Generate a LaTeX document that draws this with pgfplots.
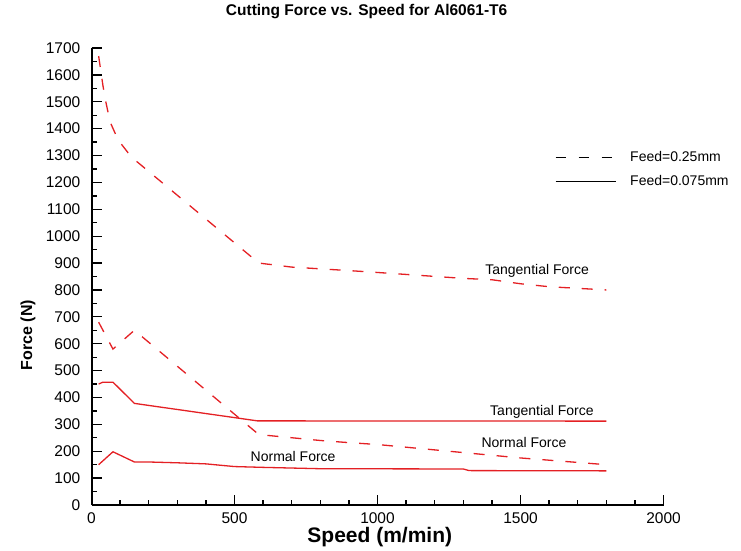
\documentclass[border=0pt]{standalone}
\usepackage{fontspec}
\setmainfont{Liberation Sans}
\usepackage{pgfplots}
\pgfplotsset{compat=1.18}
\definecolor{lr}{RGB}{228,32,36}
\begin{document}
\begin{tikzpicture}
\path[use as bounding box] (0,0) rectangle (741pt,550pt);
\begin{axis}[
 at={(91.5pt,45pt)}, anchor=origin,
 scale only axis, width=572pt, height=457pt,
 xmin=0, xmax=2000, ymin=0, ymax=1700,
 axis lines*=left,
 axis line style={line width=2pt, black},
 tick align=inside,
 major tick length=10pt, minor tick length=5pt,
 every tick/.style={line width=1.3pt, black},
 xtick={0,500,1000,1500,2000}, minor x tick num=4,
 ytick distance=100, minor y tick num=1,
 /pgf/number format/assume math mode=true,
 /pgf/number format/1000 sep={},
 ticklabel style={font=\fontsize{15.5}{15.5}\selectfont},
 yticklabel style={inner sep=0pt, xshift=-11pt},
 xticklabel style={inner sep=0pt, yshift=-7pt},
 xlabel={Speed (m/min)},
 xlabel style={at={(axis description cs:0.504,-0.070)}, anchor=center, font=\fontsize{21}{21}\selectfont\bfseries},
 ylabel={Force (N)},
 ylabel style={at={(axis description cs:-0.111,0.372)}, anchor=center, font=\fontsize{16}{16}\selectfont\bfseries},
 title={Cutting Force vs. Speed for Al6061-T6},
 title style={at={(axis description cs:0.481,1.066)}, anchor=center, font=\fontsize{15.5}{15.5}\selectfont\bfseries},
 legend image code/.code={\draw[#1] (0pt,0pt) -- (60pt,0pt);},
 legend style={at={(axis description cs:0.8103,0.779)}, anchor=north west, draw=none, fill=none, inner sep=0pt,
   font=\fontsize{14}{14}\selectfont, row sep=9pt,
   /tikz/every odd column/.append style={column sep=12pt}},
 legend cell align=left,
]
\addlegendimage{black, line width=1pt, dash pattern=on 10pt off 13pt}
\addlegendentry{Feed=0.25mm}
\addlegendimage{black, line width=1pt}
\addlegendentry{Feed=0.075mm}

% Feed 0.25 tangential (dashed)
\addplot[forget plot, lr, line width=1.3pt, dash pattern=on 11pt off 12pt] coordinates {
 (25,1670) (40,1560) (50,1500) (65,1425) (93,1358) (128,1310) (150,1285)
 (585,900) (700,885) (900,872) (1000,865) (1300,843) (1400,838) (1500,823) (1600,812) (1800,800)};
% Feed 0.25 normal (dashed)
\addplot[forget plot, lr, line width=1.3pt, dash pattern=on 11pt off 12pt] coordinates {
 (25,680) (75,580) (150,650) (585,262) (800,240) (900,232) (1000,225) (1300,195) (1500,175) (1800,150)};
% Feed 0.075 tangential (solid)
\addplot[forget plot, lr, line width=1.3pt] coordinates {
 (25,450) (40,457) (75,457) (150,378) (580,313) (1800,312)};
% Feed 0.075 normal (solid)
\addplot[forget plot, lr, line width=1.3pt] coordinates {
 (25,150) (75,198) (150,160) (200,160) (300,157) (400,153) (500,143) (600,140) (800,135) (1300,134) (1320,128) (1800,127)};

\node[font=\fontsize{14}{14}\selectfont] at (axis cs:1558,870) {Tangential Force};
\node[font=\fontsize{14}{14}\selectfont] at (axis cs:1575,346) {Tangential Force};
\node[font=\fontsize{14}{14}\selectfont] at (axis cs:1512,234) {Normal Force};
\node[font=\fontsize{14}{14}\selectfont] at (axis cs:705,182) {Normal Force};
\end{axis}
\end{tikzpicture}
\end{document}
